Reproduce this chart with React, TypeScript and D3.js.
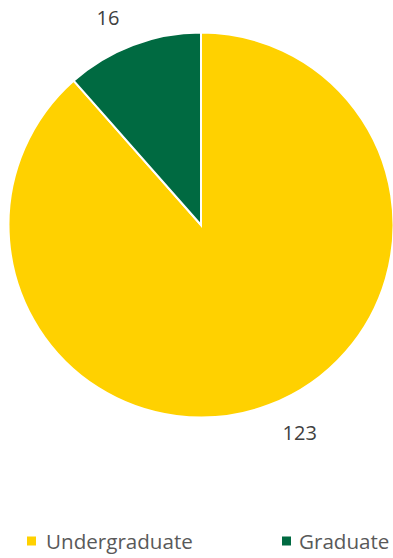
import React from "react";
import * as d3 from "d3";

const categories = ["Undergraduate", "Graduate"];
const values = [123, 16];
const colors = ["#FFD100", "#006A41"];

const W = 393;
const H = 558;
const cx = 201;
const cy = 225;
const R = 192.5;
const LABEL_R = 222;
const FONT = "'Open Sans', sans-serif";

export default function App() {
  const pie = d3
    .pie<number>()
    .sort(null)
    .value((d) => d);
  const arcs = pie(values);
  const arc = d3.arc<d3.PieArcDatum<number>>().innerRadius(0).outerRadius(R);

  const legendX = [27, 282];

  return (
    <svg
      width={W}
      height={H}
      style={{ position: "absolute", left: 0, top: 0, background: "#fff" }}
    >
      <g transform={`translate(${cx},${cy})`}>
        {arcs.map((a, i) => (
          <path
            key={i}
            d={arc(a) || ""}
            fill={colors[i]}
            stroke="#fff"
            strokeWidth={2}
          />
        ))}
        {arcs.map((a, i) => {
          const mid = (a.startAngle + a.endAngle) / 2;
          const x = Math.sin(mid) * LABEL_R;
          const y = -Math.cos(mid) * LABEL_R;
          const right = x >= 0;
          return (
            <text
              key={i}
              x={x + (right ? 3 : -3)}
              y={y}
              textAnchor={right ? "start" : "end"}
              dominantBaseline="central"
              fontFamily={FONT}
              fontSize={20}
              fill="#404040"
            >
              {values[i]}
            </text>
          );
        })}
      </g>
      {categories.map((c, i) => (
        <g key={c} transform={`translate(${legendX[i]},541)`}>
          <rect x={0} y={-4.5} width={9} height={9} fill={colors[i]} />
          <text
            x={i === 0 ? 19 : 17}
            y={0}
            dominantBaseline="central"
            fontFamily={FONT}
            fontSize={20.6}
            fill="#595959"
          >
            {c}
          </text>
        </g>
      ))}
    </svg>
  );
}
